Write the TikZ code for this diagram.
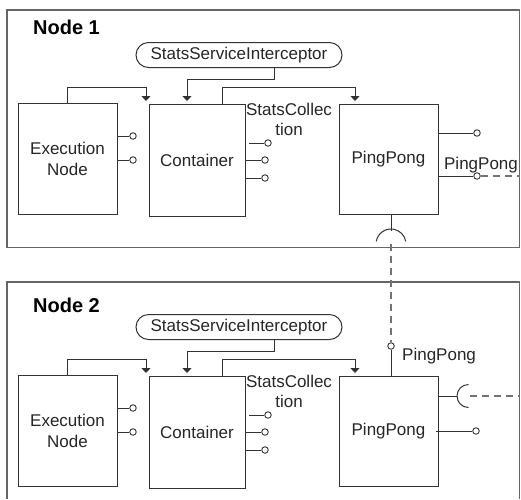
\documentclass[tikz,border=0pt]{standalone}
\usepackage{fontspec}
\setmainfont{Liberation Sans}
\usetikzlibrary{arrows.meta}
\begin{document}
\begin{tikzpicture}[x=1pt,y=-1pt,
  frame/.style={draw=black!60,line width=1.3pt},
  comp/.style={draw=black!80,line width=1pt,fill=white,inner sep=0pt,
    text=black!85,font=\fontsize{17}{21}\selectfont,align=center},
  pill/.style={draw=black!80,line width=1pt,rounded corners=12.5pt,inner sep=0pt,
    minimum width=206pt,minimum height=25pt,text=black!85,font=\fontsize{17}{21}\selectfont},
  wire/.style={draw=black!80,line width=1pt},
  arr/.style={wire,-{Triangle[width=9pt,length=5pt]}},
  lolly/.style={circle,draw=black!80,line width=0.9pt,fill=white,minimum size=6.5pt,inner sep=0pt},
  link/.style={draw=black!55,line width=1.3pt,dash pattern=on 7pt off 5pt},
  lbl/.style={text=black!85,font=\fontsize{17}{20}\selectfont,inner sep=0pt,align=center},
  title/.style={text=black,font=\fontsize{20}{24}\selectfont\bfseries,inner sep=0pt}]
\useasboundingbox (0,0) rectangle (521,499);

% enclosing frames of the two nodes
\draw[frame] (7,10) rectangle (519.5,247.5);
\draw[frame] (7,499) -- (7,282) -- (519.5,282) -- (519.5,499);
\node[title,anchor=west] (title1) at (33,27.5) {Node 1};
\node[title,anchor=west] (title2) at (33,305.5) {Node 2};

% the component set that each node carries
\foreach \k/\dy in {1/0,2/272}{
  \begin{scope}[shift={(0,\dy)}]
    \node[comp,minimum width=99pt,minimum height=111pt] (exec\k) at (67.5,158.5) {Execution\\Node};
    \node[comp,minimum width=96pt,minimum height=112pt] (cont\k) at (197,160) {Container};
    \node[comp,minimum width=99pt,minimum height=110pt] (ping\k) at (388.5,159) {PingPong};
    \node[pill] (icpt\k) at (239,55) {StatsServiceInterceptor};
    \node[lbl] (stats\k) at (289,119) {StatsCollec\\tion};

    % dependency arrows
    \coordinate (ta\k) at (146,101);
    \coordinate (tb\k) at (187,101);
    \coordinate (tc\k) at (355,101);
    \coordinate (ib\k) at (274,67.5);
    \coordinate (ct\k) at (222,104);
    \draw[arr] (exec\k.north) -- ++(0,-15) -| (ta\k);
    \draw[arr] (ib\k) -- ++(0,11.5) -| (tb\k);
    \draw[arr] (ct\k) -- ++(0,-17) -| (tc\k);

    % provided interfaces of the execution node
    \node[lolly] (ex\k a) at (133,136) {};
    \node[lolly] (ex\k b) at (133,160) {};
    \draw[wire] (exec\k.east |- ex\k a) -- (ex\k a);
    \draw[wire] (exec\k.east |- ex\k b) -- (ex\k b);

    % provided interfaces of the container
    \node[lolly] (co\k a) at (268,143) {};
    \node[lolly] (co\k b) at (265,160) {};
    \node[lolly] (co\k c) at (265,178) {};
    \coordinate (cs\k) at (249,143);
    \draw[wire] (cs\k) -- (co\k a);
    \draw[wire] (cont\k.east |- co\k b) -- (co\k b);
    \draw[wire] (cont\k.east |- co\k c) -- (co\k c);
  \end{scope}
}

% PingPong interfaces of node 1
\node[lolly] (p1a) at (477,133) {};
\node[lolly] (p1b) at (477,176) {};
\draw[wire] (ping1.east |- p1a) -- (p1a);
\draw[wire] (ping1.east |- p1b) -- (p1b);
\coordinate (p1out) at (520,176);
\draw[link] (p1b) -- (p1out);
\node[lbl] (p1lbl) at (481,165) {PingPong};

% required interface (socket) under PingPong of node 1
\coordinate (s1top) at (391,214);
\coordinate (s1c) at (391,244);
\coordinate (s1cap) at (391,231);
\draw[wire] (s1top) -- (s1cap);
\draw[wire] ([shift={(190:15)}]s1c) arc[start angle=190,end angle=350,radius=15];

% PingPong interfaces of node 2
\node[lolly] (p2top) at (391,346) {};
\draw[wire] (p2top) -- (p2top |- ping2.north);
\node[lbl,anchor=west] (p2lbl) at (402,356) {PingPong};
\draw[link] (s1c) -- (p2top);

\coordinate (s2c) at (468.5,396);
\coordinate (s2in) at (457,396);
\draw[wire] (ping2.east |- s2c) -- (s2in);
\draw[wire] ([shift={(90:11.5)}]s2c) arc[start angle=90,end angle=270,radius=11.5];
\coordinate (s2dash) at (470,396);
\coordinate (s2out) at (520,396);
\draw[link] (s2dash) -- (s2out);

\node[lolly] (p2b) at (476,431) {};
\coordinate (p2bs) at (436,431);
\draw[wire] (p2bs) -- (p2b);
\end{tikzpicture}
\end{document}
